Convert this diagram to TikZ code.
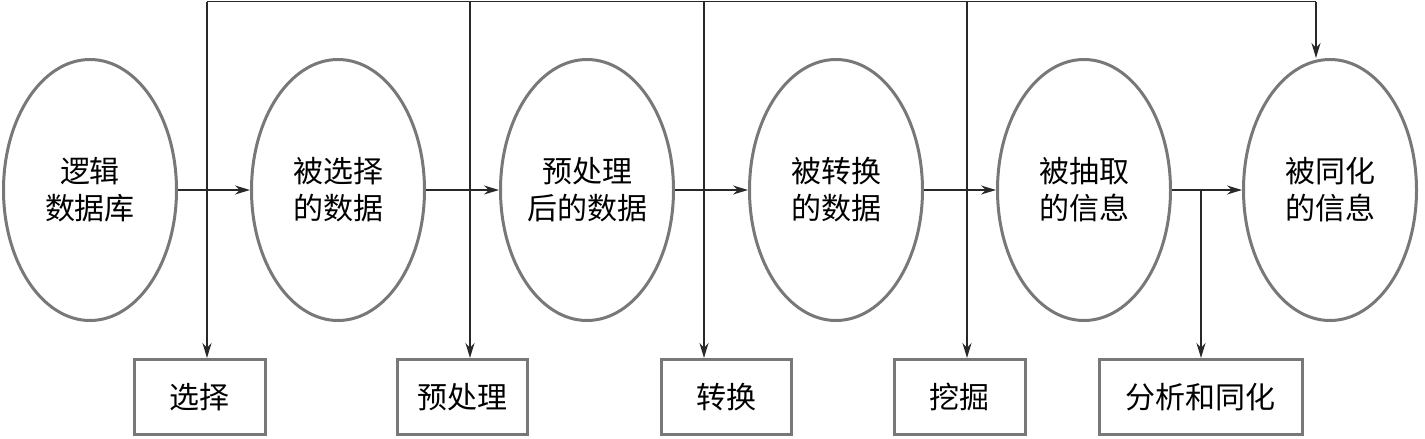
\documentclass[tikz,border=0pt]{standalone}
\usepackage{fontspec}
\newfontfamily\cjk{Noto Sans CJK SC}
\usetikzlibrary{positioning, shapes.geometric, arrows.meta}
\definecolor{rim}{RGB}{120,120,120}
\definecolor{wire}{RGB}{40,40,40}

\begin{document}
\begin{tikzpicture} [x=1pt, y=-1pt,
  ball/.style={ellipse, minimum width=173pt, minimum height=261pt, inner sep=0pt, draw=rim, line width=3pt, align=center, font=\cjk\fontsize{30}{37}\selectfont},
  job/.style={rectangle, minimum height=75pt, inner sep=0pt, draw=rim, line width=3pt, font=\cjk\fontsize{30}{37}\selectfont},
  every edge/.style={draw=wire, line width=1.8pt},
  >={Stealth[length=15pt, width=9pt]}]
  \useasboundingbox (0,0) rectangle (1425,439);
  \draw (90,190)   node[ball](db)   {逻辑\\数据库};
  \draw (338,190)  node[ball](sel)  {被选择\\的数据};
  \draw (587,190)  node[ball](pre)  {预处理\\后的数据};
  \draw (836,190)  node[ball](trn)  {被转换\\的数据};
  \draw (1084,190) node[ball](ext)  {被抽取\\的信息};
  \draw (1330,190) node[ball](asm)  {被同化\\的信息};

  \draw (199.5,397) node[job, minimum width=131pt](bsel) {选择};
  \draw (462,397)   node[job, minimum width=130pt](bpre) {预处理};
  \draw (726,397)   node[job, minimum width=130pt](btrn) {转换};
  \draw (959.5,397) node[job, minimum width=131pt](bmin) {挖掘};
  \draw (1200.5,397) node[job, minimum width=203pt](bana) {分析和同化};

  % top bus and branch point
  \coordinate (t1) at (207,1.5);
  \coordinate (t2) at (470,1.5);
  \coordinate (t3) at (704,1.5);
  \coordinate (t4) at (967,1.5);
  \coordinate (t5) at (1316,1.5);
  \coordinate (br) at (1201,190);

\path (db)  edge[->] (sel)
      (sel) edge[->] (pre)
      (pre) edge[->] (trn)
      (trn) edge[->] (ext)
      (ext) edge[->] (asm)
      (t1)  edge (t5)
      (t1)  edge[->] (t1 |- bsel.north)
      (t2)  edge[->] (t2 |- bpre.north)
      (t3)  edge[->] (t3 |- btrn.north)
      (t4)  edge[->] (t4 |- bmin.north)
      (t5)  edge[->] (t5 |- asm.north)
      (br)  edge[->] (br |- bana.north);
\end{tikzpicture}
\end{document}
